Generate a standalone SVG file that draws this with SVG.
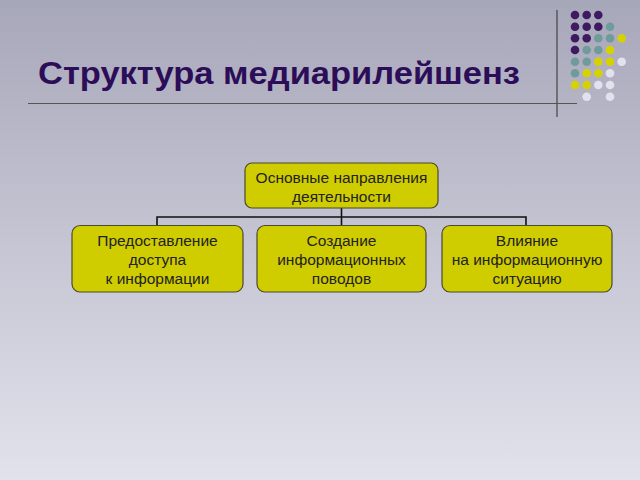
<svg xmlns="http://www.w3.org/2000/svg" width="640" height="480" viewBox="0 0 640 480">
<defs>
<linearGradient id="bg" x1="0" y1="0" x2="0" y2="1">
<stop offset="0" stop-color="#a7a7ba"/>
<stop offset="1" stop-color="#e2e2ec"/>
</linearGradient>
</defs>
<style>
.box{fill:#cfcc00;stroke:#4a4a30;stroke-width:1.2}
.t{font-family:"Liberation Sans",Arial,sans-serif;font-size:15.5px;fill:#222;text-anchor:middle}
.c{stroke:#111;stroke-width:1.6;fill:none}
.p{fill:#3e1a60}.g{fill:#6f9c9a}.y{fill:#d6d200}.w{fill:#e2e2ee}
</style>
<rect width="640" height="480" fill="url(#bg)"/>
<g id="decor">
<line x1="557" y1="10" x2="557" y2="117" stroke="#444" stroke-width="1.2"/>
<line x1="28" y1="103.5" x2="577" y2="103.5" stroke="#555" stroke-width="1.2"/>
<circle class="p" cx="575" cy="15" r="4.3"/><circle class="p" cx="586.7" cy="15" r="4.3"/><circle class="p" cx="598.3" cy="15" r="4.3"/>
<circle class="p" cx="575" cy="26.7" r="4.3"/><circle class="p" cx="586.7" cy="26.7" r="4.3"/><circle class="p" cx="598.3" cy="26.7" r="4.3"/><circle class="g" cx="610" cy="26.7" r="4.3"/>
<circle class="p" cx="575" cy="38.3" r="4.3"/><circle class="p" cx="586.7" cy="38.3" r="4.3"/><circle class="g" cx="598.3" cy="38.3" r="4.3"/><circle class="g" cx="610" cy="38.3" r="4.3"/><circle class="y" cx="621.7" cy="38.3" r="4.3"/>
<circle class="p" cx="575" cy="50" r="4.3"/><circle class="g" cx="586.7" cy="50" r="4.3"/><circle class="g" cx="598.3" cy="50" r="4.3"/><circle class="y" cx="610" cy="50" r="4.3"/>
<circle class="g" cx="575" cy="61.7" r="4.3"/><circle class="g" cx="586.7" cy="61.7" r="4.3"/><circle class="y" cx="598.3" cy="61.7" r="4.3"/><circle class="y" cx="610" cy="61.7" r="4.3"/><circle class="w" cx="621.7" cy="61.7" r="4.3"/>
<circle class="g" cx="575" cy="73.3" r="4.3"/><circle class="y" cx="586.7" cy="73.3" r="4.3"/><circle class="y" cx="598.3" cy="73.3" r="4.3"/><circle class="w" cx="610" cy="73.3" r="4.3"/>
<circle class="y" cx="575" cy="85" r="4.3"/><circle class="y" cx="586.7" cy="85" r="4.3"/><circle class="w" cx="598.3" cy="85" r="4.3"/><circle class="w" cx="610" cy="85" r="4.3"/>
<circle class="w" cx="586.7" cy="96.7" r="4.3"/><circle class="w" cx="610" cy="96.7" r="4.3"/>
</g>
<g id="title">
<text x="38" y="84" font-family="'Liberation Sans',Arial,sans-serif" font-size="31" font-weight="bold" fill="#2c0d58" textLength="482" lengthAdjust="spacingAndGlyphs">Структура медиарилейшенз</text>
</g>
<g id="connectors">
<path class="c" d="M341.5 208 V217 M157 225.5 V217 H526 V225.5 M341.5 217 V225.5"/>
</g>
<g id="n0">
<rect class="box" x="245" y="163" width="193" height="45" rx="7"/>
<text class="t" x="341.5" y="183">Основные направления</text>
<text class="t" x="341.5" y="202">деятельности</text>
</g>
<g id="n1">
<rect class="box" x="72" y="225.5" width="171" height="66.5" rx="8"/>
<text class="t" x="157.5" y="246">Предоставление</text>
<text class="t" x="157.5" y="265">доступа</text>
<text class="t" x="157.5" y="284">к информации</text>
</g>
<g id="n2">
<rect class="box" x="257" y="225.5" width="169" height="66.5" rx="8"/>
<text class="t" x="341.5" y="246">Создание</text>
<text class="t" x="341.5" y="265">информационных</text>
<text class="t" x="341.5" y="284">поводов</text>
</g>
<g id="n3">
<rect class="box" x="442" y="225.5" width="170" height="66.5" rx="8"/>
<text class="t" x="527" y="246">Влияние</text>
<text class="t" x="527" y="265">на информационную</text>
<text class="t" x="527" y="284">ситуацию</text>
</g>
</svg>
